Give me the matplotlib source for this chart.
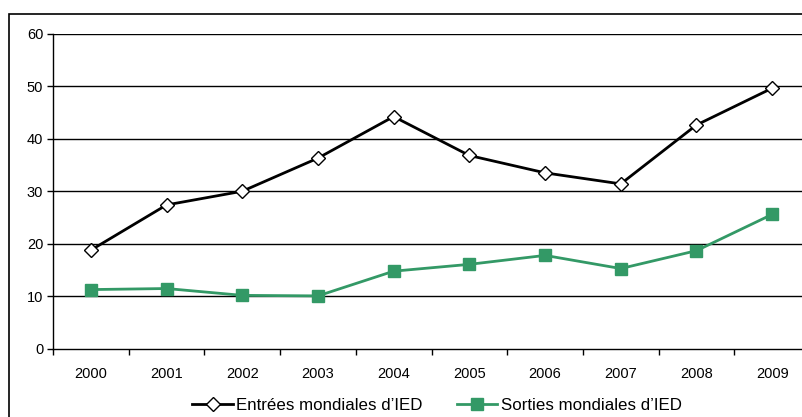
import matplotlib
matplotlib.use("Agg")
import matplotlib.pyplot as plt
from matplotlib.patches import Rectangle

plt.rcParams['font.family'] = ['Liberation Sans', 'DejaVu Sans']

years = ['2000', '2001', '2002', '2003', '2004', '2005', '2006', '2007', '2008', '2009']
entrees = [18.8, 27.4, 30.0, 36.3, 44.2, 36.8, 33.5, 31.4, 42.6, 49.6]
sorties = [11.3, 11.5, 10.2, 10.1, 14.8, 16.1, 17.8, 15.3, 18.7, 25.6]
y_ticks = [0, 10, 20, 30, 40, 50, 60]

W, H = 803, 417
fig = plt.figure(figsize=(W / 100, H / 100), dpi=100)

# outer frame (partly cut by the image edge)
fig.patches.append(Rectangle((9 / W, -0.1), 1.2, 1 - 14 / H + 0.1, transform=fig.transFigure,
                             fill=False, edgecolor='black', linewidth=1.2))

left, right = 53 / W, 810 / W
bottom, top = 1 - 349 / H, 1 - 33.5 / H
ax = fig.add_axes([left, bottom, right - left, top - bottom])

x = list(range(len(years)))
ax.plot(x, entrees, color='black', linewidth=2, marker='D', markersize=7,
        markerfacecolor='white', markeredgecolor='black', markeredgewidth=1,
        label='Entrées mondiales d\u2019IED', zorder=3)
ax.plot(x, sorties, color='#339966', linewidth=2, marker='s', markersize=8,
        markerfacecolor='#339966', markeredgecolor='#339966',
        label='Sorties mondiales d\u2019IED', zorder=3)

ax.set_xlim(-0.5, len(years) - 0.5)
ax.set_ylim(0, 60)
ax.set_yticks(y_ticks)
ax.set_xticks(x)
ax.set_xticklabels(years)
ax.set_xticks([i - 0.5 for i in range(len(years) + 1)], minor=True)
ax.tick_params(axis='x', which='major', length=0, pad=13, labelsize=10.5)
ax.tick_params(axis='x', which='minor', length=4, direction='out', width=1)
ax.tick_params(axis='y', length=4, width=1, labelsize=10.5, pad=3)

for v in y_ticks[1:]:
    ax.axhline(v, color='black', linewidth=1, zorder=1)
ax.spines['top'].set_visible(False)
ax.spines['right'].set_visible(False)
ax.spines['left'].set_linewidth(1)
ax.spines['bottom'].set_linewidth(1)

fig.legend(loc='center', bbox_to_anchor=(437 / W, 1 - 405 / H), ncol=2, frameon=False,
           fontsize=12.2, handlelength=2.4, handletextpad=0.2, columnspacing=2.0)

fig.savefig('out.png', dpi=100)
